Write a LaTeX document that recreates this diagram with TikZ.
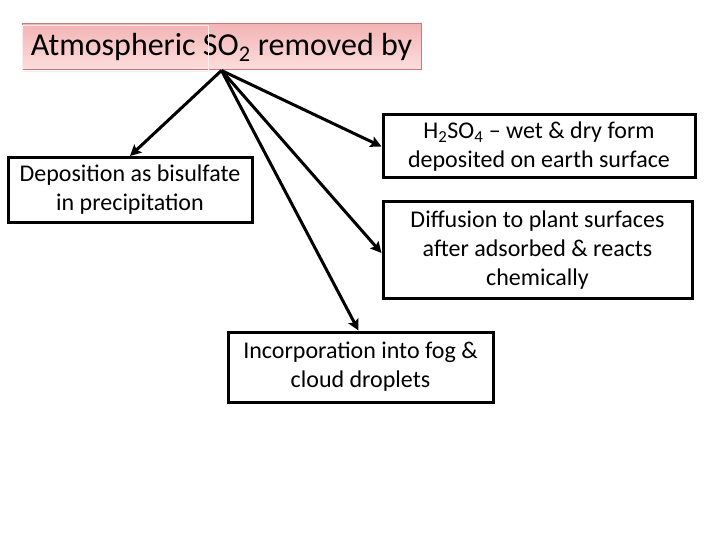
\documentclass[tikz,border=0pt]{standalone}
\usepackage{fontspec}
\setmainfont{Carlito}
\usetikzlibrary{arrows.meta}
\begin{document}
\begin{tikzpicture}[
  x=1pt, y=-1pt,
  block_title/.style={rectangle, text centered, draw={rgb,255:red,205;green,120;blue,120}, line width=1pt,
    top color={rgb,255:red,243;green,180;blue,180}, bottom color={rgb,255:red,252;green,222;blue,222},
    minimum width=399pt, minimum height=46pt, inner sep=0pt, font=\fontsize{32}{37}\selectfont},
  block_path/.style={rectangle, align=center, draw=black, line width=3pt, fill=white,
    inner sep=0pt, font=\fontsize{24}{29}\selectfont},
  line/.style={draw, line width=3pt, -{Stealth[length=11pt,width=11pt,inset=2pt]}}
  ]

\useasboundingbox (0,0) rectangle (720,540);

\node [block_title] (title) at (221.5,47) {Atmospheric SO\textsubscript{2} removed by};
\draw [draw={rgb,255:red,253;green,236;blue,236}, line width=0.6pt] ([shift={(1pt,-1pt)}]title.south west) rectangle (208,25);

\node [block_path, minimum width=244pt, minimum height=65pt] (bisulfate) at (130,190)
  {Deposition as bisulfate\\in precipitation};
\node [block_path, minimum width=312pt, minimum height=63pt] (h2so4) at (539,146.5)
  {H\textsubscript{2}SO\textsubscript{4} – wet \& dry form\\deposited on earth surface};
\node [block_path, minimum width=309pt, minimum height=96pt] (diffusion) at (537.5,250)
  {Diffusion to plant surfaces\\after adsorbed \& reacts\\chemically};
\node [block_path, minimum width=265pt, minimum height=70pt] (droplets) at (360.5,367)
  {Incorporation into fog \&\\cloud droplets};

\path [line] (title.south) -- (bisulfate.north);
\path [line] (title.south) -- (h2so4.west);
\path [line] (title.south) -- ([yshift=-3pt]diffusion.west);
\path [line] (title.south) -- ([xshift=-2pt]droplets.north);

\end{tikzpicture}
\end{document}
